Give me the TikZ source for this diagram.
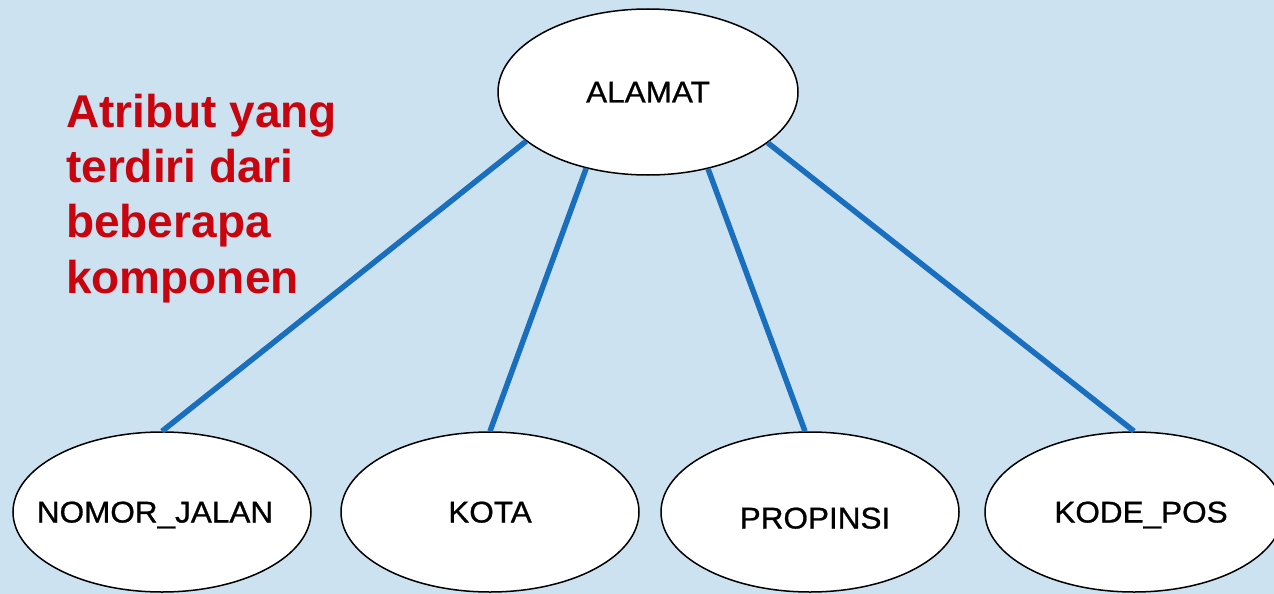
\documentclass[tikz,border=0pt]{standalone}
\usepackage{fontspec}
\setmainfont{Liberation Sans}
\newfontfamily\attrfont[FakeStretch=1.05,FakeBold=0.8]{Liberation Sans}
\usetikzlibrary{shapes.geometric}

\definecolor{bgblue}{RGB}{204,226,241}
\definecolor{linkblue}{RGB}{26,110,190}
\definecolor{notered}{RGB}{200,4,14}

\tikzset{
  attr/.style={ellipse, draw=black, line width=1.5pt, fill=white,
    inner ysep=0pt, inner xsep=-60pt, text height=21pt, text depth=0pt,
    font=\attrfont\fontsize{30}{30}\selectfont},
  topattr/.style={attr, minimum width=300pt, minimum height=166pt},
  subattr/.style={attr, minimum width=298pt, minimum height=160pt},
  link/.style={draw=linkblue, line width=5.5pt},
  note/.style={text=notered, align=left, inner sep=0pt,
    font=\bfseries\fontsize{46}{55.3}\selectfont}
}

\begin{document}
\begin{tikzpicture}[x=1pt, y=-1pt]
  % canvas
  \fill[bgblue] (0,0) rectangle (1274,594);
  \useasboundingbox (0,0) rectangle (1274,594);

  % composite attribute and its components
  \node[topattr] (alamat) at (648,92) {ALAMAT};
  \node[subattr] (nomor)    at (162,512)  {NOMOR\_JALAN\hspace*{14pt}};
  \node[subattr] (kota)     at (490,512)  {KOTA};
  \node[subattr] (propinsi) at (810,512)  {\hspace*{10pt}\raisebox{-6pt}{PROPINSI}};
  \node[subattr] (kodepos)  at (1134,512) {\hspace*{14pt}KODE\_POS};

  % connectors
  \draw[link] (alamat.202) -- (nomor.north);
  \draw[link] (alamat.231) -- (kota.north);
  \draw[link] (alamat.308) -- ([xshift=-5pt]propinsi.north);
  \draw[link] (alamat.337) -- (kodepos.north);

  % caption, placed by the baseline of its last line
  \node[note, anchor=base west] (caption) at (66,293)
    {Atribut yang\\terdiri dari\\beberapa\\komponen};
\end{tikzpicture}
\end{document}
